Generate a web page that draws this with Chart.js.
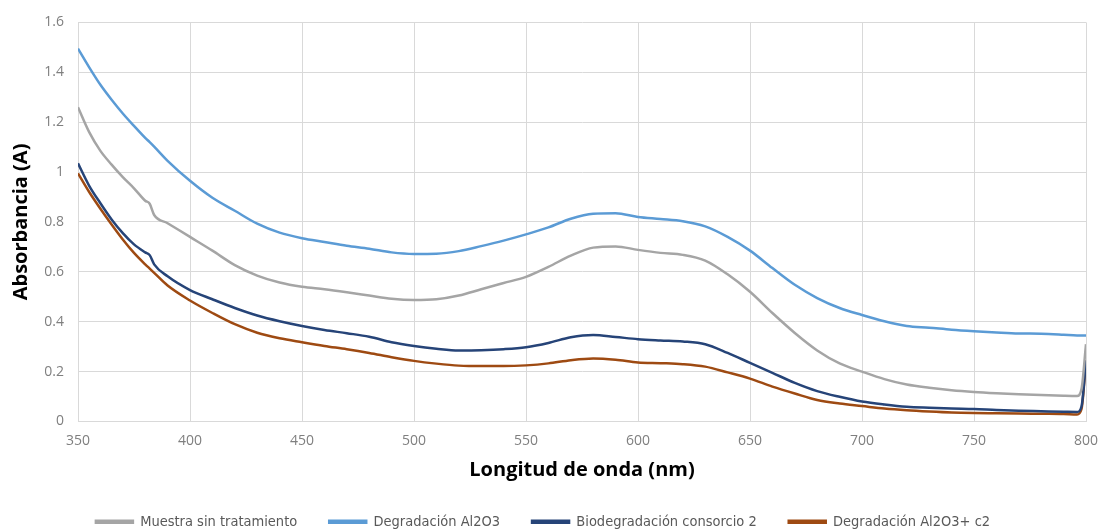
<!DOCTYPE html>
<html>
<head>
<meta charset="utf-8">
<script src="https://cdn.jsdelivr.net/npm/chart.js@4.4.1/dist/chart.umd.min.js"></script>
<style>
  html, body { margin: 0; padding: 0; background: #fff; }
  #wrap { width: 1099px; height: 529px; }
</style>
</head>
<body>
<div id="wrap"><canvas id="espectro" width="1099" height="529"></canvas></div>
<script>
// longitudes de onda (nm)
var wavelength = [350, 355, 360, 365, 370, 375, 380, 382, 384, 390, 400, 410, 420, 430, 440, 450, 460, 470, 480, 490,
  500, 510, 520, 530, 540, 550, 560, 570, 580, 590, 600, 610, 620, 630, 640, 650, 660, 670, 680, 690,
  700, 710, 720, 730, 740, 750, 760, 770, 780, 790, 796, 798, 800];

var muestra = [1.26, 1.16, 1.085, 1.03, 0.98, 0.935, 0.885, 0.873, 0.828, 0.795, 0.74, 0.685, 0.627, 0.585, 0.557, 0.54, 0.53, 0.518, 0.505, 0.492,
  0.487, 0.49, 0.505, 0.53, 0.555, 0.58, 0.62, 0.665, 0.697, 0.702, 0.688, 0.676, 0.668, 0.645, 0.59, 0.52, 0.435, 0.355, 0.285, 0.233,
  0.20, 0.17, 0.148, 0.135, 0.125, 0.118, 0.113, 0.109, 0.106, 0.103, 0.102, 0.13, 0.31];

var al2o3 = [1.495, 1.42, 1.35, 1.29, 1.235, 1.185, 1.137, 1.12, 1.102, 1.045, 0.965, 0.897, 0.845, 0.793, 0.757, 0.735, 0.72, 0.705, 0.693, 0.678,
  0.672, 0.673, 0.683, 0.703, 0.725, 0.75, 0.778, 0.813, 0.833, 0.835, 0.82, 0.812, 0.803, 0.782, 0.74, 0.685, 0.615, 0.548, 0.495, 0.455,
  0.427, 0.402, 0.383, 0.376, 0.368, 0.362, 0.357, 0.353, 0.352, 0.348, 0.345, 0.345, 0.345];

var consorcio = [1.035, 0.945, 0.875, 0.81, 0.755, 0.71, 0.678, 0.667, 0.63, 0.582, 0.527, 0.49, 0.455, 0.425, 0.402, 0.383, 0.367, 0.354, 0.34, 0.318,
  0.303, 0.292, 0.285, 0.286, 0.29, 0.298, 0.315, 0.338, 0.347, 0.339, 0.33, 0.325, 0.321, 0.31, 0.275, 0.235, 0.195, 0.155, 0.122, 0.099,
  0.08, 0.068, 0.059, 0.055, 0.052, 0.05, 0.046, 0.043, 0.041, 0.039, 0.038, 0.06, 0.245];

var al2o3c2 = [0.995, 0.92, 0.853, 0.79, 0.73, 0.676, 0.63, 0.613, 0.596, 0.545, 0.485, 0.435, 0.39, 0.356, 0.334, 0.318, 0.303, 0.29, 0.275, 0.258,
  0.243, 0.232, 0.224, 0.222, 0.222, 0.225, 0.233, 0.246, 0.253, 0.248, 0.237, 0.234, 0.23, 0.22, 0.197, 0.172, 0.14, 0.112, 0.086, 0.072,
  0.062, 0.052, 0.045, 0.04, 0.036, 0.034, 0.033, 0.032, 0.031, 0.03, 0.028, 0.05, 0.245];

var nombres = ["Muestra sin tratamiento", "Degradación Al2O3", "Biodegradación consorcio 2", "Degradación Al2O3+ c2"];
var colores = ["#A5A5A5", "#5B9BD5", "#264478", "#9E4A12"];

function puntos(vals) {
  return wavelength.map(function (w, i) { return { x: w, y: vals[i] }; });
}

var series = [muestra, al2o3, consorcio, al2o3c2];
var datasets = series.map(function (vals, i) {
  return {
    label: nombres[i],
    data: puntos(vals),
    borderColor: colores[i],
    backgroundColor: colores[i],
    borderWidth: 2.5,
    pointRadius: 0,
    cubicInterpolationMode: 'monotone'
  };
});

var ctx = document.getElementById("espectro").getContext('2d');
var chart = new Chart(ctx, {
  type: 'line',
  data: { datasets: datasets },
  options: {
    responsive: false,
    animation: false,
    layout: { padding: { top: 14, right: 13, left: 0, bottom: -10 } },
    plugins: {
      tooltip: { enabled: false },
      legend: {
        position: 'bottom',
        labels: {
          boxWidth: 37,
          boxHeight: 2,
          padding: 32,
          color: "#595959",
          font: { family: "'Liberation Sans Narrow', 'DejaVu Sans Condensed', Roboto, sans-serif", size: 14.5 }
        }
      }
    },
    scales: {
      x: {
        type: 'linear',
        min: 350,
        max: 800,
        ticks: { stepSize: 50, color: "#7F7F7F", padding: 11, font: { family: "'Open Sans'", size: 14 } },
        grid: { color: "#D9D9D9", drawTicks: false },
        border: { color: "#D9D9D9" },
        title: {
          display: true,
          text: "Longitud de onda (nm)",
          color: "#000",
          padding: { top: 8, bottom: 0 },
          font: { family: "'Open Sans'", size: 20, weight: 'bold' }
        },
        afterFit: function (scale) {
          scale.height = 61;
          scale.paddingRight = 0;
          scale.paddingLeft = 0;
        }
      },
      y: {
        min: 0,
        max: 1.6,
        ticks: {
          stepSize: 0.2,
          color: "#7F7F7F",
          padding: 14,
          font: { family: "'Open Sans'", size: 14 },
          callback: function (v) { return String(+v.toFixed(1)); }
        },
        grid: { color: "#D9D9D9", drawTicks: false },
        border: { color: "#D9D9D9" },
        title: {
          display: true,
          text: "Absorbancia (A)",
          color: "#000",
          padding: { top: 9, bottom: 0 },
          font: { family: "'Open Sans'", size: 20, weight: 'bold' }
        },
        afterFit: function (scale) { scale.width = 78; }
      }
    }
  }
});
</script>
</body>
</html>
